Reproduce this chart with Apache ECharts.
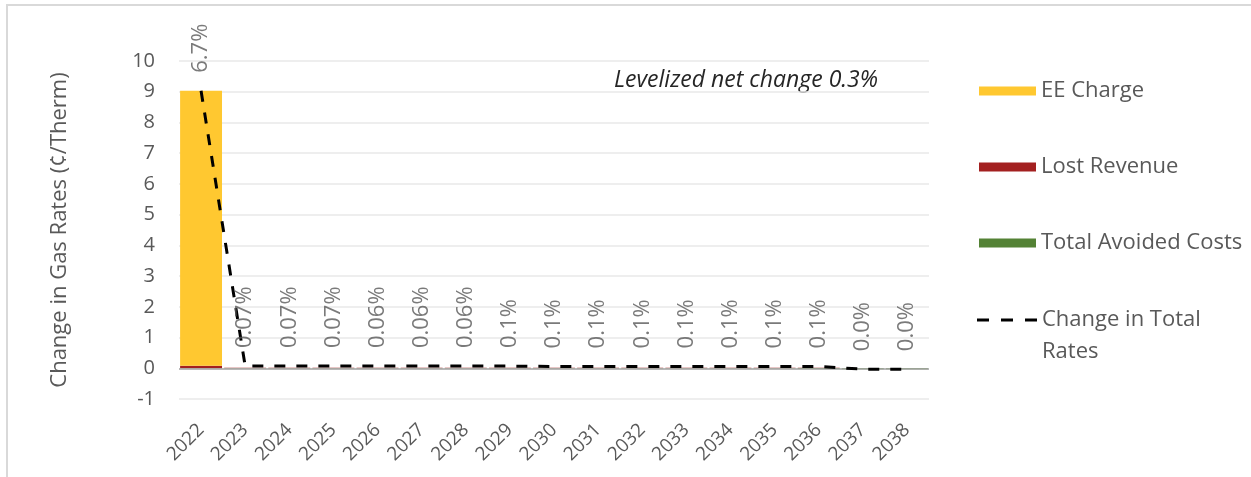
<!DOCTYPE html>
<html>
<head>
<meta charset="utf-8">
<script src="https://cdn.jsdelivr.net/npm/echarts@6/dist/echarts.min.js"></script>
<style>
  html, body { margin: 0; padding: 0; background: #fff; }
  #chart { width: 1251px; height: 477px; }
</style>
</head>
<body>
<div id="chart"></div>
<script>
const years = ['2022', '2023', '2024', '2025', '2026', '2027', '2028', '2029', '2030',
    '2031', '2032', '2033', '2034', '2035', '2036', '2037', '2038'];
const eeCharge = [8.95, 0, 0, 0, 0, 0, 0, 0, 0, 0, 0, 0, 0, 0, 0, 0, 0];
const lostRevenue = [0.08, 0.02, 0.02, 0.02, 0.02, 0.02, 0.02, 0.02, 0.02, 0.02, 0.02, 0.02, 0.02, 0.02, 0.02, 0, 0];
const avoidedCosts = [-0.01, -0.01, -0.01, -0.01, -0.01, -0.01, -0.01, -0.01, -0.01, -0.01, -0.01, -0.01, -0.01, -0.01, -0.02, -0.03, -0.03];
const totalChange = [9.03, 0.07, 0.07, 0.07, 0.07, 0.07, 0.07, 0.07, 0.06, 0.06, 0.06, 0.06, 0.06, 0.06, 0.06, -0.03, -0.03];
const pctLabels = ['6.7%', '0.07%', '0.07%', '0.07%', '0.06%', '0.06%', '0.06%', '0.1%', '0.1%',
    '0.1%', '0.1%', '0.1%', '0.1%', '0.1%', '0.1%', '0.0%', '0.0%'];
const yTicks = {min: -1, max: 10, step: 1};

const FONT = '"Open Sans"';
const GREY = '#595959';

const chart = echarts.init(document.getElementById('chart'));

const legendText = {color: GREY, fontFamily: FONT, fontSize: 22};
function oneLegend(name, top, extra) {
    return Object.assign({
        data: [name],
        orient: 'vertical',
        left: 979,
        top: top,
        itemWidth: 57,
        itemHeight: 9,
        itemGap: 0,
        padding: 0,
        selectedMode: false,
        textStyle: legendText
    }, extra || {});
}

const option = {
    animation: false,
    grid: {left: 179, right: 322, top: 61, bottom: 78},
    legend: [
        oneLegend('EE Charge', 80, {icon: 'rect'}),
        oneLegend('Lost Revenue', 156, {icon: 'rect'}),
        oneLegend('Total Avoided Costs', 232, {icon: 'rect'}),
        oneLegend('Change in Total Rates', 272, {
            left: 977,
            icon: 'path://M0,0h12v3h-12z M24,0h12v3h-12z M48,0h12v3h-12z',
            itemWidth: 60,
            itemHeight: 3,
            formatter: () => ' \nChange in Total\nRates',
            textStyle: Object.assign({}, legendText, {lineHeight: 32})
        })
    ],
    graphic: [
        {type: 'line', shape: {x1: 6, y1: 5, x2: 1251, y2: 5}, style: {stroke: '#d9d9d9', lineWidth: 2}, silent: true},
        {type: 'line', shape: {x1: 7, y1: 4, x2: 7, y2: 477}, style: {stroke: '#d9d9d9', lineWidth: 2}, silent: true},
        {
            type: 'text', left: 614, top: 69,
            style: {text: 'Levelized net change 0.3%', fill: '#262626', fontFamily: FONT, fontSize: 23, fontStyle: 'italic'}
        }
    ],
    xAxis: {
        type: 'category',
        data: years,
        axisLine: {show: false, onZero: false},
        axisTick: {show: false},
        axisLabel: {rotate: 45, margin: 28, color: GREY, fontFamily: FONT, fontSize: 19, interval: 0}
    },
    yAxis: {
        type: 'value',
        min: yTicks.min,
        max: yTicks.max,
        interval: yTicks.step,
        name: 'Change in Gas Rates (¢/Therm)',
        nameLocation: 'middle',
        nameGap: 108,
        nameTextStyle: {color: GREY, fontFamily: FONT, fontSize: 22},
        axisLine: {show: false},
        axisTick: {show: false},
        axisLabel: {margin: 24, color: GREY, fontFamily: FONT, fontSize: 20},
        splitLine: {lineStyle: {color: '#e8e8e8', width: 1.5}}
    },
    series: [
        {
            name: 'Lost Revenue', type: 'bar', stack: 'rates', data: lostRevenue,
            barCategoryGap: '5%', itemStyle: {color: '#a32020'}
        },
        {
            name: 'EE Charge', type: 'bar', stack: 'rates', data: eeCharge,
            itemStyle: {color: '#ffc830'}
        },
        {
            name: 'Total Avoided Costs', type: 'bar', stack: 'rates', data: avoidedCosts,
            itemStyle: {color: '#548235'},
            markLine: {
                silent: true, symbol: 'none', label: {show: false},
                lineStyle: {color: '#a6a6a6', width: 1.5, type: 'solid'},
                data: [{yAxis: 0}]
            }
        },
        {
            name: 'Change in Total Rates', type: 'line', data: totalChange, z: 5,
            symbol: 'none',
            lineStyle: {color: '#000', width: 3, type: [11, 11]},
            itemStyle: {color: '#000'}
        },
        {
            // invisible points carrying the rotated percentage labels
            name: 'pct', type: 'scatter', data: totalChange, z: 6,
            symbolSize: 0, silent: true,
            itemStyle: {color: 'rgba(0,0,0,0)'},
            label: {
                show: true, position: 'top', distance: 18, rotate: 90,
                align: 'left', verticalAlign: 'middle',
                color: GREY, fontFamily: FONT, fontSize: 22,
                formatter: p => pctLabels[p.dataIndex]
            }
        }
    ]
};

chart.setOption(option);
</script>
</body>
</html>
